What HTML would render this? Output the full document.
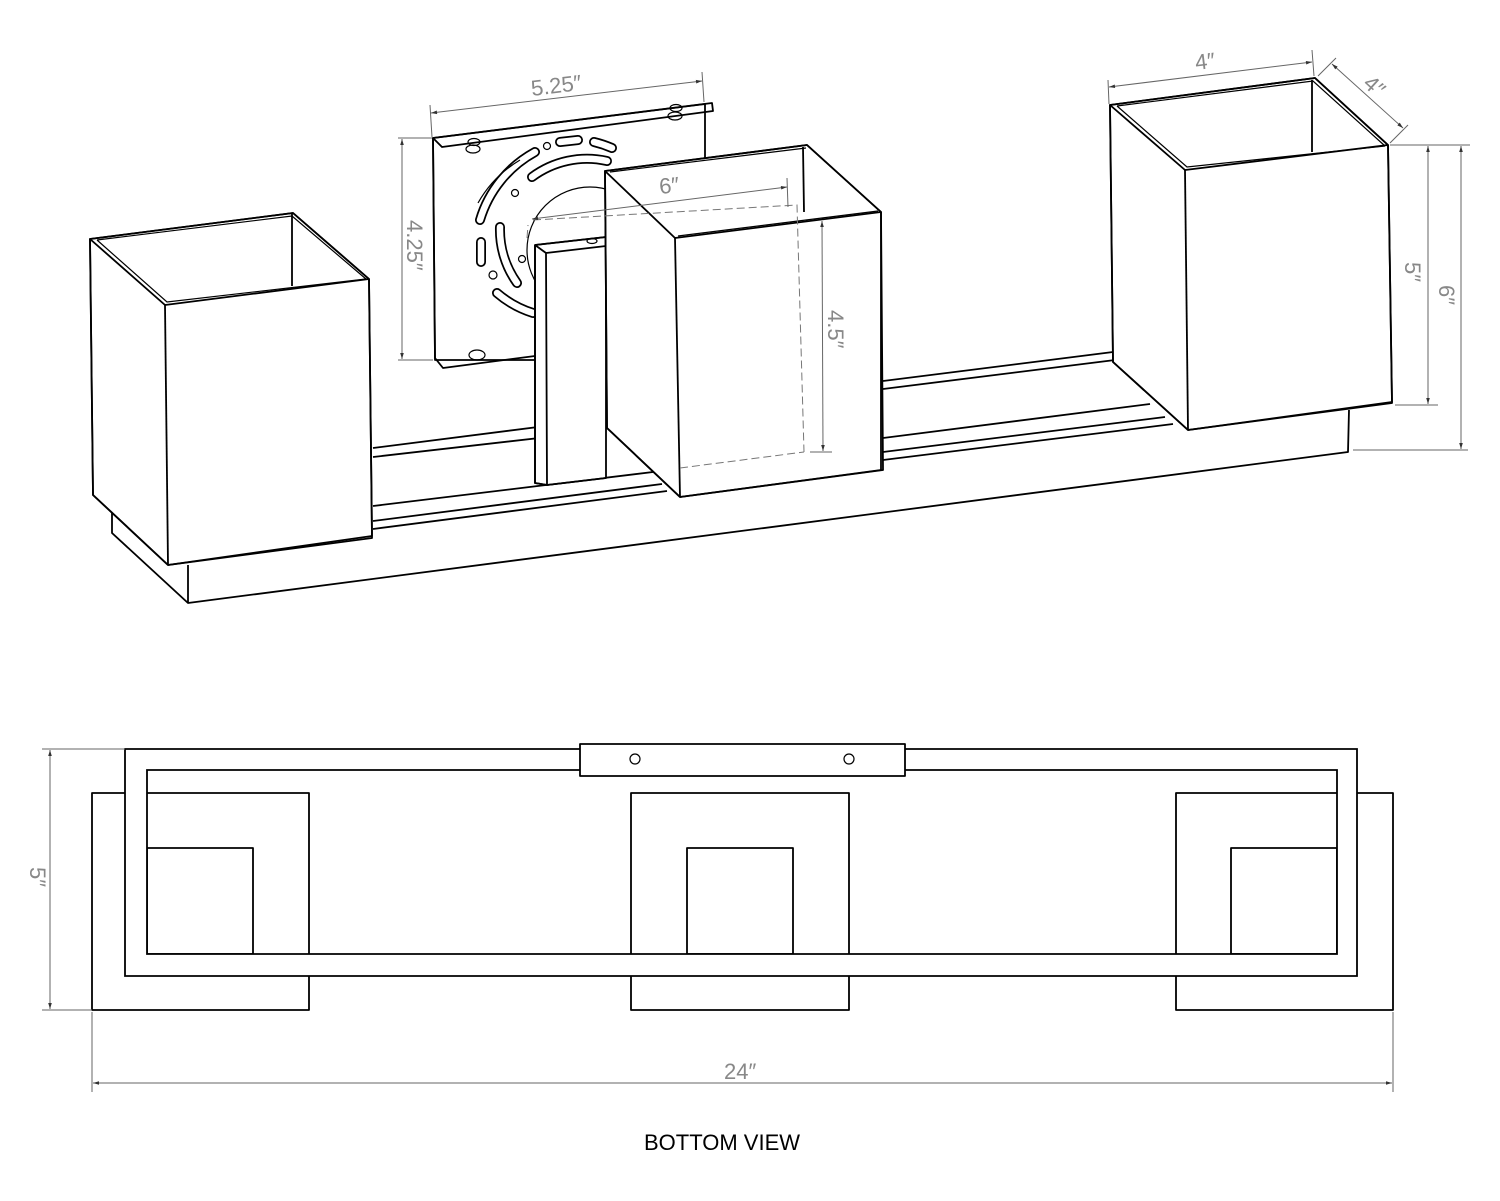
<!DOCTYPE html>
<html><head><meta charset="utf-8"><style>
html,body{margin:0;padding:0;background:#fff;}
svg{display:block;}
.o{fill:none;stroke:#000;stroke-width:1.8;stroke-linejoin:round;}
.t{fill:none;stroke:#000;stroke-width:1.2;}
.d{fill:none;stroke:#666;stroke-width:1;}
.h{fill:none;stroke:#777;stroke-width:1;stroke-dasharray:8 4;}
.w{fill:#fff;stroke:#000;stroke-width:1.8;stroke-linejoin:round;}
.dt{font-family:"Liberation Sans",sans-serif;font-size:22px;fill:#888;font-weight:300;}
</style></head><body>
<svg width="1500" height="1201" viewBox="0 0 1500 1201" xmlns="http://www.w3.org/2000/svg">
<defs>
<marker id="a" viewBox="0 0 10 10" refX="10" refY="5" markerWidth="10" markerHeight="6" orient="auto-start-reverse"><path d="M0,2 L10,5 L0,8 z" fill="#333"/></marker>
</defs>

<!-- ===== Mounting plate ===== -->
<path class="w" d="M433,138 L705,104 L705,360 L435,360 Z"/>
<path class="o" d="M433,138 L712,103 L713,111 L442,147 Z"/>
<path class="o" d="M433,138 L435,358 L443,368 L535,356"/>
<g fill="none" stroke-linecap="round">
 <g stroke="#000" stroke-width="10">
  <path d="M480,220 A115,115 0 0 1 535,152"/>
  <path d="M497,293 A102,102 0 0 0 533,313"/>
  <path d="M532,177 A92,92 0 0 1 607,161"/>
  <path d="M500,227 A92,92 0 0 0 517,283"/>
  <path d="M481,242 L481,262"/>
  <path d="M560,142 L578,140"/>
  <path d="M594,142 A110,110 0 0 1 612,148"/>
 </g>
 <g stroke="#fff" stroke-width="6.5">
  <path d="M480,220 A115,115 0 0 1 535,152"/>
  <path d="M497,293 A102,102 0 0 0 533,313"/>
  <path d="M532,177 A92,92 0 0 1 607,161"/>
  <path d="M500,227 A92,92 0 0 0 517,283"/>
  <path d="M481,242 L481,262"/>
  <path d="M560,142 L578,140"/>
  <path d="M594,142 A110,110 0 0 1 612,148"/>
 </g>
</g>
<circle class="t" cx="590" cy="250" r="63"/>
<path class="t" d="M478,203 A118,118 0 0 1 520,160"/>
<circle class="t" cx="547" cy="146" r="3.5"/>
<circle class="t" cx="515" cy="193" r="3.5"/>
<circle class="t" cx="522" cy="259" r="3.5"/>
<circle class="t" cx="493" cy="275" r="4"/>
<ellipse class="t" cx="474" cy="142" rx="6" ry="3.5"/>
<ellipse class="t" cx="473" cy="149" rx="7" ry="4"/>
<ellipse class="t" cx="676" cy="108" rx="6" ry="3.5"/>
<ellipse class="t" cx="675" cy="116" rx="7" ry="4"/>
<ellipse class="t" cx="477" cy="355" rx="8" ry="5"/>

<!-- ===== Base & rails ===== -->
<path class="w" d="M112,513 L112,533 L188,603 L1348,452 L1349,410 L1110,360 L373,450 Z" style="stroke:none"/>
<path class="o" d="M112,513 L112,533 L188,603 L1348,452 L1349,410"/>
<path class="o" d="M188,565 L188,603"/>
<path class="o" d="M373,448 L538,427 L548,437 L373,457"/>
<path class="o" d="M373,506 L653,472"/>
<path class="o" d="M373,521 L662,484"/>
<path class="o" d="M373,529 L667,491"/>
<path class="o" d="M883,381 L1113,352"/>
<path class="o" d="M883,389 L1115,360"/>
<path class="o" d="M883,438 L1150,404"/>
<path class="o" d="M883,452 L1165,417"/>
<path class="o" d="M883,460 L1173,424"/>

<!-- ===== Bracket box in front of plate ===== -->
<path class="w" d="M535,245 L606,237 L606,478 L547,485 L535,483 Z"/>
<path class="o" d="M535,245 L606,237 M535,245 L546,253 L606,246 M535,245 L535,483 L547,485 L606,478 M546,253 L547,485"/>
<ellipse class="t" cx="592" cy="241" rx="5" ry="2.5"/>

<!-- ===== Middle box ===== -->
<path class="w" d="M605,171 L807,145 L881,212 L883,470 L680,497 L607,428 Z"/>
<path class="o" d="M605,171 L807,145 L881,212 L675,238 Z"/>
<path class="t" d="M610,172 L806,148 M678,236 L878,211"/>
<path class="o" d="M803,147 L804,212"/>
<path class="o" d="M605,171 L607,428 L680,497 L881,470 L881,212"/>
<path class="o" d="M675,238 L680,497"/>
<path class="h" d="M533,220 L797,205 L804,452"/>
<path class="h" d="M680,468 L804,452"/>
<path class="h" d="M527,238 L528,225"/>

<!-- ===== Left box ===== -->
<path class="w" d="M90,239 L293,213 L369,279 L372,536 L168,565 L93,495 Z"/>
<path class="o" d="M90,239 L293,213 L369,279 L165,305 Z"/>
<path class="t" d="M97,240 L292,216 L366,279 M97,240 L167,302 L366,279"/>
<path class="o" d="M292,214 L292,286"/>
<path class="o" d="M90,239 L93,495 L168,565 L372,538 L369,279"/>
<path class="o" d="M165,305 L168,565"/>

<!-- ===== Right box ===== -->
<path class="w" d="M1110,105 L1315,78 L1388,145 L1392,403 L1188,430 L1113,362 Z"/>
<path class="o" d="M1110,105 L1315,78 L1388,145 L1185,170 Z"/>
<path class="t" d="M1117,106 L1313,81 L1385,146 M1117,106 L1187,167 L1385,146"/>
<path class="o" d="M1312,80 L1312,152"/>
<path class="o" d="M1110,105 L1113,362 L1188,430 L1392,402 L1388,145"/>
<path class="o" d="M1185,170 L1188,430"/>

<!-- ===== Dimensions (top) ===== -->
<path class="d" d="M430,105 L432,137 M702,72 L704,102"/>
<path class="d" d="M431,113 L702,81" marker-start="url(#a)" marker-end="url(#a)"/>
<text class="dt" transform="translate(532,96) rotate(-7)">5.25″</text>
<path class="d" d="M398,138 L432,138 M398,360 L433,360"/>
<path class="d" d="M402,139 L402,359" marker-start="url(#a)" marker-end="url(#a)"/>
<text class="dt" transform="translate(407,220) rotate(90)">4.25″</text>
<path class="d" d="M532,219 L787,187" marker-start="url(#a)" marker-end="url(#a)"/>
<path class="d" d="M787,178 L788,207"/>
<text class="dt" transform="translate(660,194) rotate(-6)">6″</text>
<path class="d" d="M810,452 L832,452"/>
<path class="d" d="M822,221 L823,451" marker-start="url(#a)" marker-end="url(#a)"/>
<text class="dt" transform="translate(828,310) rotate(90)">4.5″</text>
<path class="d" d="M1108,80 L1109,104 M1312,50 L1314,76"/>
<path class="d" d="M1109,87 L1312,62" marker-start="url(#a)" marker-end="url(#a)"/>
<text class="dt" transform="translate(1196,70) rotate(-7)">4″</text>
<path class="d" d="M1318,76 L1336,58 M1390,143 L1408,125"/>
<path class="d" d="M1332,64 L1403,128" marker-start="url(#a)" marker-end="url(#a)"/>
<text class="dt" transform="translate(1362,85) rotate(42)">4″</text>
<path class="d" d="M1390,145 L1470,145 M1395,405 L1438,405 M1353,450 L1468,450"/>
<path class="d" d="M1428,146 L1428,404" marker-start="url(#a)" marker-end="url(#a)"/>
<path class="d" d="M1461,146 L1461,449" marker-start="url(#a)" marker-end="url(#a)"/>
<text class="dt" transform="translate(1405,262) rotate(90)">5″</text>
<text class="dt" transform="translate(1439,285) rotate(90)">6″</text>

<!-- ===== Bottom view ===== -->
<rect class="o" x="92" y="793" width="217" height="217"/>
<rect class="o" x="147" y="848" width="106" height="106"/>
<rect class="o" x="631" y="793" width="218" height="217"/>
<rect class="o" x="687" y="848" width="106" height="106"/>
<rect class="o" x="1176" y="793" width="217" height="217"/>
<rect class="o" x="1231" y="848" width="106" height="106"/>
<path fill="#fff" fill-rule="evenodd" stroke="#000" stroke-width="1.8" d="M125,749 H1357 V976 H125 Z M147,770 H1337 V954 H147 Z"/>
<rect class="w" x="580" y="744" width="325" height="32"/>
<circle class="t" cx="635" cy="759" r="5"/>
<circle class="t" cx="849" cy="759" r="5"/>

<path class="d" d="M42,749 L125,749 M42,1010 L92,1010"/>
<path class="d" d="M50,750 L50,1009" marker-start="url(#a)" marker-end="url(#a)"/>
<text class="dt" transform="translate(30,867) rotate(90)">5″</text>
<path class="d" d="M92,1012 L92,1092 M1393,1012 L1393,1092"/>
<path class="d" d="M93,1083 L1392,1083" marker-start="url(#a)" marker-end="url(#a)"/>
<text class="dt" x="724" y="1079">24″</text>
<text x="722" y="1150" text-anchor="middle" font-family="Liberation Sans, sans-serif" font-size="22" fill="#000">BOTTOM VIEW</text>
</svg>
</body></html>
